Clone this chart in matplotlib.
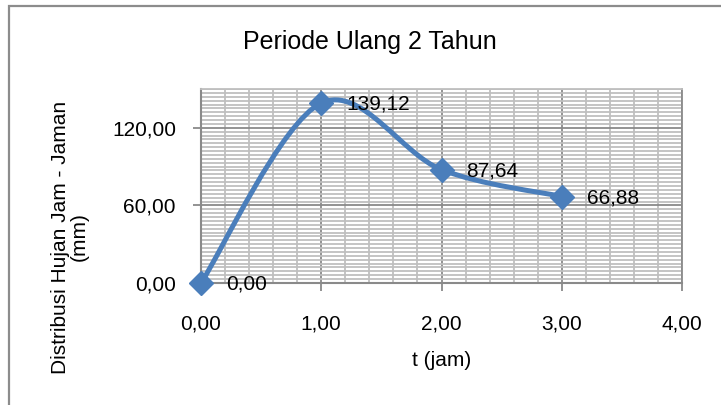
import numpy as np
import matplotlib
matplotlib.use("Agg")
import matplotlib.pyplot as plt
from matplotlib.path import Path
from matplotlib.patches import PathPatch, Rectangle
from matplotlib.ticker import MultipleLocator

plt.rcParams['font.family'] = ['Liberation Sans', 'DejaVu Sans']

# ---- data ----
t_jam = [0.0, 1.0, 2.0, 3.0]
hujan = [0.00, 139.12, 87.64, 66.88]
data_labels = ["0,00", "139,12", "87,64", "66,88"]
x_ticks = [0, 1, 2, 3, 4]
x_tick_labels = ["0,00", "1,00", "2,00", "3,00", "4,00"]
y_ticks = [0, 60, 120]
y_tick_labels = ["0,00", "60,00", "120,00"]
title = "Periode Ulang 2 Tahun"
xlabel = "t (jam)"
ylabel = "Distribusi Hujan Jam - Jaman\n(mm)"

BLUE = "#4A7EBB"
W, H = 721, 405
fig = plt.figure(figsize=(W / 100, H / 100), dpi=100)

# chart border (left/top visible)
fig.patches.append(Rectangle((9 / W, -0.1), 1.2, 1 - 6 / H + 0.1,
                             transform=fig.transFigure, fill=False,
                             edgecolor="#8C8C8C", lw=1.6))

ax = fig.add_axes([201 / W, 1 - 283 / H, 481 / W, 194 / H])
ax.set_xlim(0, 4)
ax.set_ylim(0, 150)

# grid
ax.xaxis.set_minor_locator(MultipleLocator(0.2))
ax.yaxis.set_minor_locator(MultipleLocator(3))
ax.grid(which="minor", color="#BFBFBF", lw=1.3)
ax.grid(which="major", color="#8A8A8A", lw=1.3)
ax.set_axisbelow(True)

ax.set_xticks(x_ticks)
ax.set_xticklabels(x_tick_labels)
ax.set_yticks(y_ticks)
ax.set_yticklabels(y_tick_labels)
ax.tick_params(which="minor", length=0)
ax.tick_params(axis="x", which="major", length=6, width=1.3, color="#8A8A8A",
               pad=17, labelsize=15)
ax.tick_params(axis="y", which="major", length=6, width=1.3, color="#8A8A8A",
               pad=12, labelsize=15)
for s in ["left", "bottom"]:
    ax.spines[s].set_color("#8A8A8A")
    ax.spines[s].set_linewidth(1.5)
ax.spines["right"].set_color("#8A8A8A")
ax.spines["right"].set_linewidth(1.3)
ax.spines["top"].set_color("#BFBFBF")
ax.spines["top"].set_linewidth(1.3)

# smoothed line (Excel-like Catmull-Rom Bezier)
x = np.array(t_jam)
y = np.array(hujan)
pts = np.column_stack([x, y])
ext = np.vstack([pts[0], pts, pts[-1]])
verts = [tuple(pts[0])]
codes = [Path.MOVETO]
for i in range(len(pts) - 1):
    p0, p1, p2, p3 = ext[i], ext[i + 1], ext[i + 2], ext[i + 3]
    c1 = p1 + (p2 - p0) / 6.0
    c2 = p2 - (p3 - p1) / 6.0
    verts += [tuple(c1), tuple(c2), tuple(p2)]
    codes += [Path.CURVE4] * 3
ax.add_patch(PathPatch(Path(verts, codes), facecolor="none", edgecolor=BLUE,
                       lw=3.6, capstyle="round", joinstyle="round",
                       clip_on=False, zorder=3))
ax.plot(x, y, linestyle="none", marker="D", markersize=12, color=BLUE,
        clip_on=False, zorder=4)

for xi, yi, lab in zip(x, y, data_labels):
    ax.annotate(lab, (xi, yi), xytext=(18, -1), textcoords="offset points",
                ha="left", va="center", fontsize=15, color="black", zorder=5)

fig.text(370 / W, 1 - 49 / H, title, ha="center", va="baseline", fontsize=18)
ax.set_xlabel(xlabel, fontsize=15, labelpad=12)
fig.text(69.5 / W, 1 - 237 / H, ylabel, rotation=90, ha="center", va="center",
         multialignment="center", fontsize=15, linespacing=1.0)

fig.savefig("out.png", dpi=100)
